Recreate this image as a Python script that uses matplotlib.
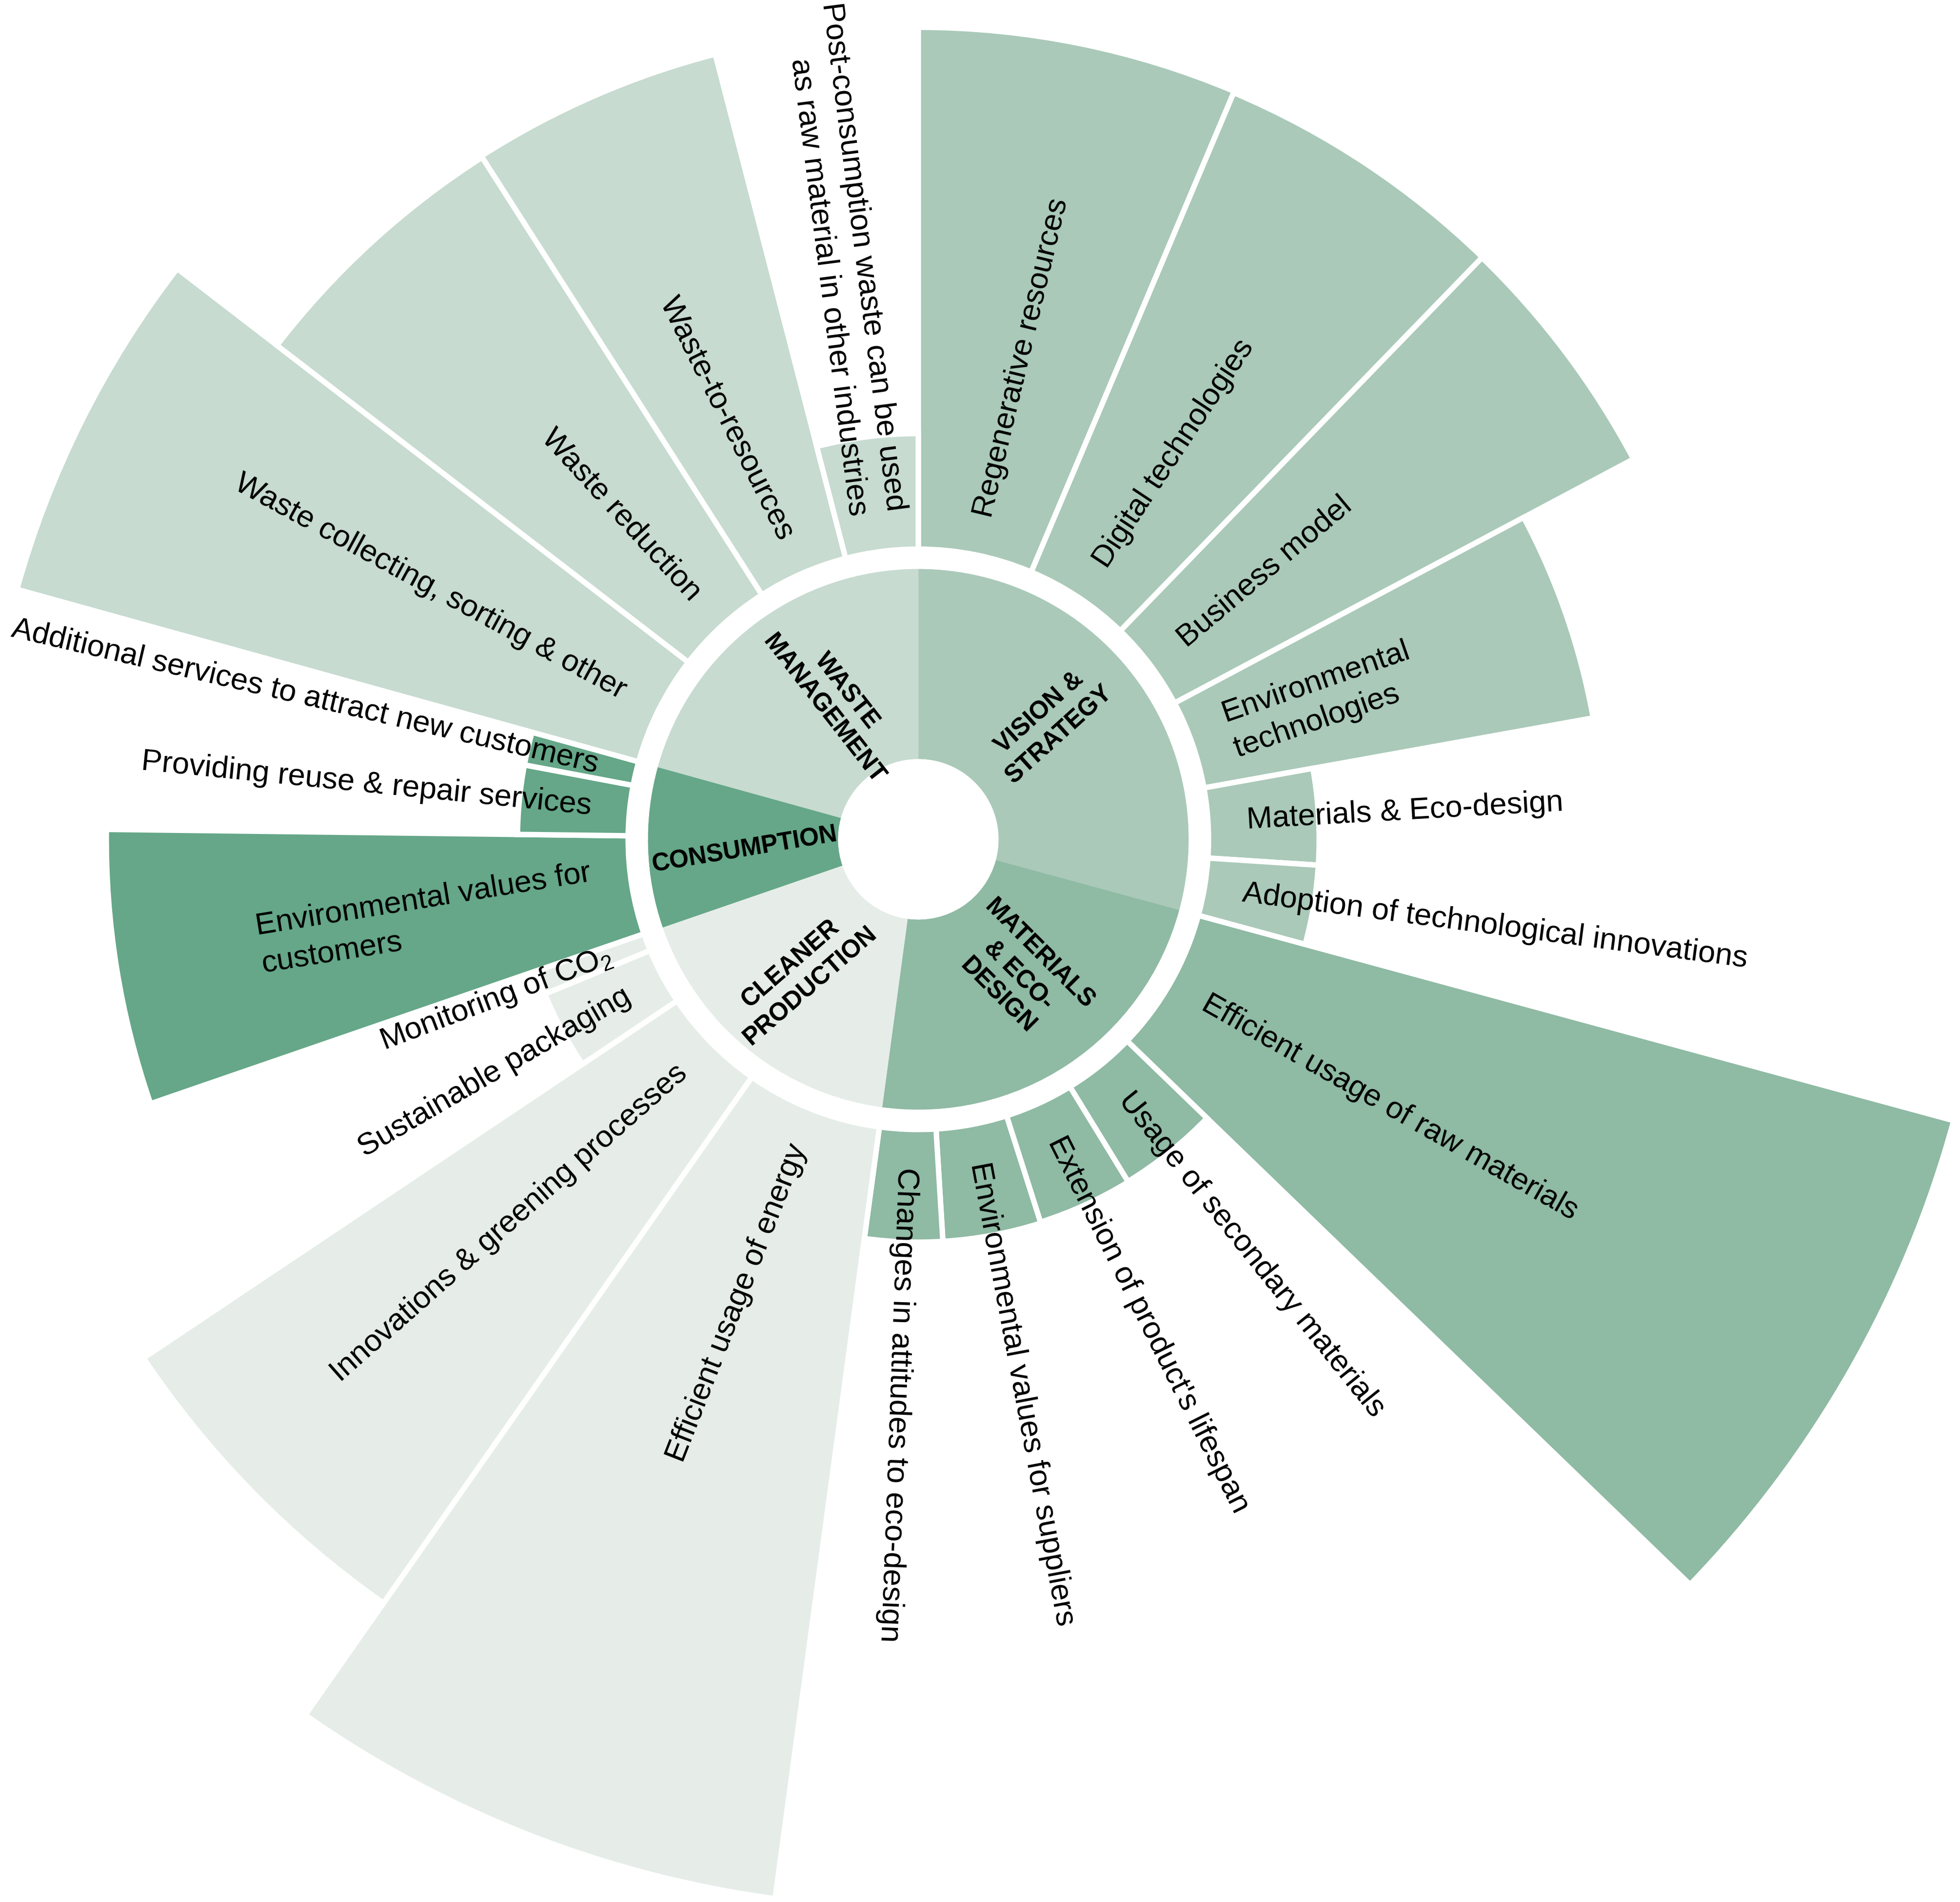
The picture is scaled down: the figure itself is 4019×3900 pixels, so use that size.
import numpy as np
import matplotlib
matplotlib.use("Agg")
from matplotlib import pyplot as plt

plt.rcParams['font.family'] = ['Liberation Sans', 'DejaVu Sans']
plt.rcParams['mathtext.fontset'] = 'custom'
plt.rcParams['mathtext.rm'] = 'Liberation Sans'

# categories, clockwise from 12 o'clock
categories = ["VISION &\nSTRATEGY", "MATERIALS\n& ECO-\nDESIGN", "CLEANER\nPRODUCTION",
              "CONSUMPTION", "WASTE\nMANAGEMENT"]
cat_colors = ["#aac9b9", "#8fbaa4", "#e6ede9", "#65a788", "#c7dbd0"]

# items of every category: label, angular share (deg), outer reach (px from centre)
vision_items = ["Regenerative resources", "Digital technologies", "Business model",
                "Environmental\ntechnologies", "Materials & Eco-design",
                "Adoption of technological innovations"]
vision_share = [22.9, 21.2, 17.9, 17.8, 13.9, 11.5]
vision_reach = [1665, 1662, 1661, 1406, 822, 822]

materials_items = ["Efficient usage of raw materials", "Usage of secondary materials",
                   "Extension of product's lifespan", "Environmental values for suppliers",
                   "Changes in attitudes to eco-design"]
materials_share = [28.8, 14.5, 13.8, 14.2, 11.2]
materials_reach = [2200, 823, 824, 826, 826]

cleaner_items = ["Efficient usage of energy", "Innovations & greening processes",
                 "Sustainable packaging", r"Monitoring of CO$_\mathregular{2}$"]
cleaner_share = [27.3, 21.2, 11.3, 3.5]
cleaner_reach = [2192, 1912, 829, 829]

consumption_items = ["Environmental values for\ncustomers", "Providing reuse & repair services",
                     "Additional services to attract new customers"]
consumption_share = [19.7, 10.0, 4.8]
consumption_reach = [1665, 822, 822]

waste_items = ["Waste collecting, sorting & other", "Waste reduction", "Waste-to-resources",
               "Post-consumption waste can be used\nas raw material in other industries"]
waste_share = [22.1, 19.8, 18.1, 14.5]
waste_reach = [1918, 1660, 1663, 832]

groups = [(vision_items, vision_share, vision_reach),
          (materials_items, materials_share, materials_reach),
          (cleaner_items, cleaner_share, cleaner_reach),
          (consumption_items, consumption_share, consumption_reach),
          (waste_items, waste_share, waste_reach)]

# layout
HOLE, RING, BASE, TEXT_R = 165, 554, 595, 674
outward = [True, True, False, False, False]
cat_label_angle = [41.5, -53.5, -131.0, 183.5, 121.0]
cat_label_r = [358, 346, 368, 356, 332]
cat_label_rot = [42, -45, 41, 9.5, -52]
tilt = {"Regenerative resources": -2, "Business model": 3, "Adoption of technological innovations": 2,
        "Extension of product's lifespan": 2, "Innovations & greening processes": -3,
        "Sustainable packaging": 2, "Waste collecting, sorting & other": -2, "Waste-to-resources": 3}

W, H = 4019, 3900
cx, cy = 1883, 1721
R = 2300
fig = plt.figure(figsize=(W / 100, H / 100), dpi=100)
ax = fig.add_axes([(cx - R) / W, (H - cy - R) / H, 2 * R / W, 2 * R / H], projection='polar')
ax.set_ylim(0, R)
ax.set_axis_off()

start = 90.0
for gi, (items, share, reach) in enumerate(groups):
    g_start = start
    for lab, w, r in zip(items, share, reach):
        end = start - w
        ax.bar(np.deg2rad(end), r - BASE, width=np.deg2rad(w), bottom=BASE, align='edge',
               color=cat_colors[gi], edgecolor='white', linewidth=8)
        mid = start - w / 2
        if outward[gi]:
            rot = mid + tilt.get(lab, 0)
            ha, ma = 'left', 'left'
        else:
            rot = mid + 180 + tilt.get(lab, 0)
            ha = 'right'
            ma = 'left' if lab.startswith("Environmental") else 'right'
        rot = (rot + 180) % 360 - 180
        ax.text(np.deg2rad(mid), TEXT_R, lab, rotation=rot, rotation_mode='anchor',
                ha=ha, va='center', multialignment=ma, fontsize=45.5, linespacing=1.4)
        start = end
    ax.bar(np.deg2rad(start), RING - HOLE, width=np.deg2rad(g_start - start), bottom=HOLE,
           align='edge', color=cat_colors[gi], edgecolor=cat_colors[gi], linewidth=0.5)
    ax.text(np.deg2rad(cat_label_angle[gi]), cat_label_r[gi], categories[gi],
            rotation=cat_label_rot[gi], rotation_mode='anchor', ha='center', va='center',
            multialignment='center', fontsize=37, fontweight='bold', linespacing=1.3)

fig.savefig("out.png", dpi=100)
